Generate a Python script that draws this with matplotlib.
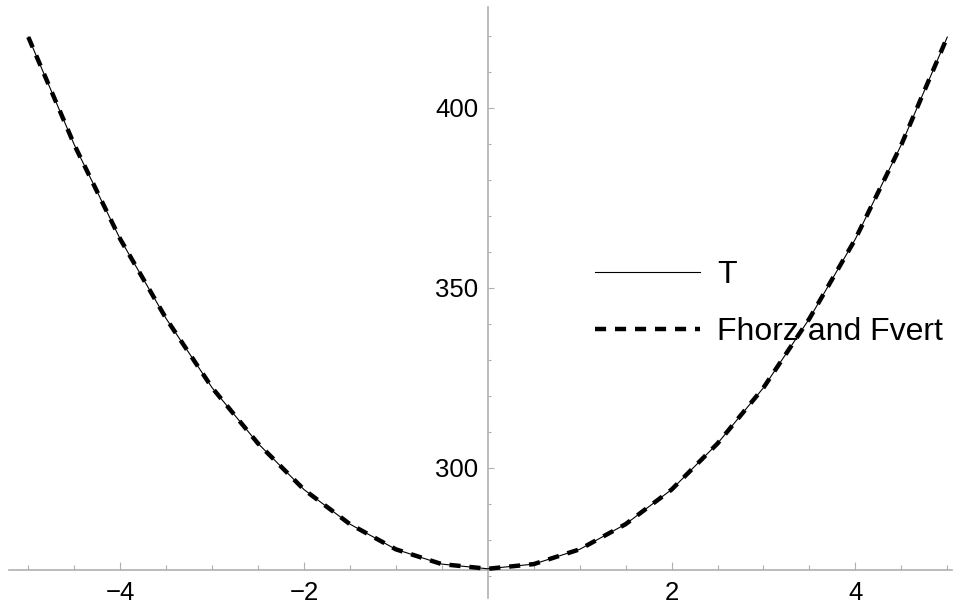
import matplotlib
matplotlib.use("Agg")
import matplotlib.pyplot as plt

plt.rcParams['font.family'] = ['Liberation Sans', 'DejaVu Sans']

# değerler
x_vals = [-5.0, -4.5, -4.0, -3.5, -3.0, -2.5, -2.0, -1.5, -1.0, -0.5, 0.0,
          0.5, 1.0, 1.5, 2.0, 2.5, 3.0, 3.5, 4.0, 4.5, 5.0]
T_vals = [419.7, 389.8, 363.6, 341.5, 322.3, 306.8, 294.0, 284.4, 277.4, 273.3, 272.0,
          273.3, 277.4, 284.4, 294.0, 306.8, 322.3, 341.5, 363.6, 389.8, 419.7]
F_vals = [419.7, 389.8, 363.6, 341.5, 322.3, 306.8, 294.0, 284.4, 277.4, 273.3, 272.0,
          273.3, 277.4, 284.4, 294.0, 306.8, 322.3, 341.5, 363.6, 389.8, 419.7]

x_major = [-4, -2, 2, 4]
x_minor = [-5, -4.5, -3.5, -3, -2.5, -1.5, -1, -0.5, 0.5, 1, 1.5, 2.5, 3, 3.5, 4.5, 5]
y_major = [300, 350, 400]
y_minor = [270, 280, 290, 310, 320, 330, 340, 360, 370, 380, 390, 410, 420]

axis_gray = '#b0b0b0'

fig = plt.figure(figsize=(9.56, 6.05), dpi=100)
ax = fig.add_axes([0, 0, 1, 1])
ax.set_xlim(-5.308, 5.095)
ax.set_ylim(261.94, 430)

ax.plot(x_vals, T_vals, color='black', lw=0.8, zorder=3, label='T')
ax.plot(x_vals, F_vals, color='black', lw=3.2, ls=(0, (2.5, 2.0)), zorder=4,
        label='Fhorz and Fvert')

# Mathematica tarzı eksenler
ax.spines['top'].set_visible(False)
ax.spines['right'].set_visible(False)
ax.spines['left'].set_position(('data', 0))
ax.spines['bottom'].set_position(('data', 271.8))
ax.spines['left'].set_bounds(263.9, 428.06)
ax.spines['bottom'].set_bounds(-5.21, 5.05)
for s in ['left', 'bottom']:
    ax.spines[s].set_color(axis_gray)
    ax.spines[s].set_linewidth(1.2)

ax.set_xticks(x_major)
ax.set_xticks(x_minor, minor=True)
ax.set_yticks(y_major)
ax.set_yticks(y_minor, minor=True)

ax.tick_params(which='both', direction='in', color=axis_gray, width=0.8,
               labelcolor='black', labelsize=18.5)
ax.tick_params(axis='x', which='major', length=5.5, pad=8)
ax.tick_params(axis='x', which='minor', length=3.6)
ax.tick_params(axis='y', which='major', length=4.1, pad=7)
ax.tick_params(axis='y', which='minor', length=2.0)

leg = ax.legend(loc='upper left', bbox_to_anchor=(0.6224, 0.570),
                bbox_transform=fig.transFigure, frameon=False, fontsize=23,
                handlelength=3.3, handletextpad=0.53, borderpad=0,
                borderaxespad=0, labelspacing=0.84)
leg.set_zorder(1)

fig.savefig('out.png', dpi=100)
